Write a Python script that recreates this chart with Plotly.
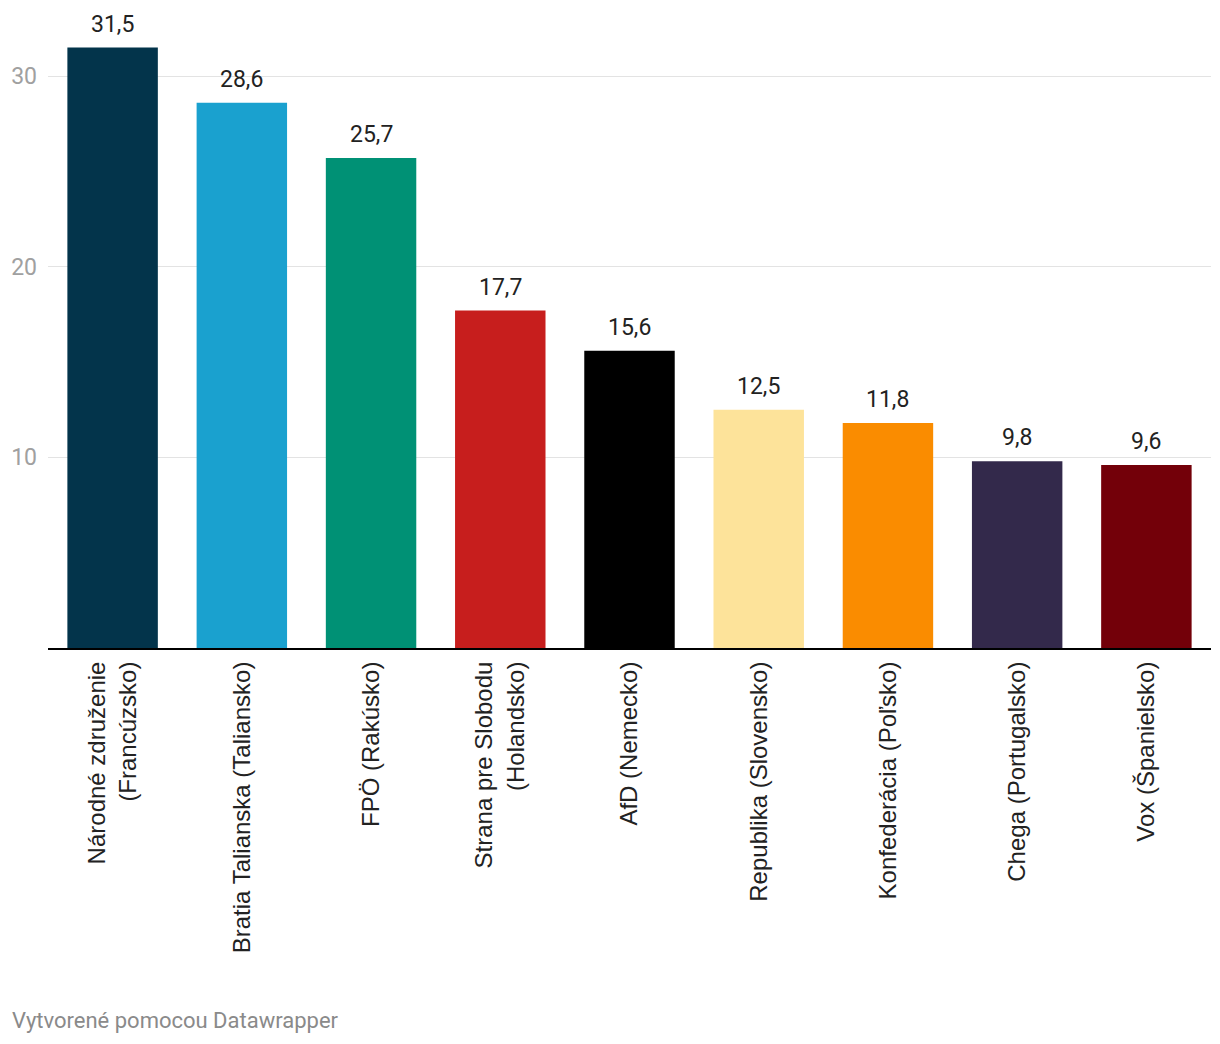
import plotly.graph_objects as go

categories = [
    "Národné združenie<br>(Francúzsko)",
    "Bratia Talianska (Taliansko)",
    "FPÖ (Rakúsko)",
    "Strana pre Slobodu<br>(Holandsko)",
    "AfD (Nemecko)",
    "Republika (Slovensko)",
    "Konfederácia (Poľsko)",
    "Chega (Portugalsko)",
    "Vox (Španielsko)",
]
values = [31.5, 28.6, 25.7, 17.7, 15.6, 12.5, 11.8, 9.8, 9.6]
colors = ["#03344b", "#1aa1cf", "#009175", "#c71e1d", "#000000",
          "#fde39a", "#fa8c00", "#33294b", "#730009"]
y_ticks = [10, 20, 30]
y_tick_labels = ["10", "20", "30"]

fig = go.Figure()
fig.add_trace(go.Bar(
    x=categories, y=values, marker=dict(color=colors, line=dict(width=0)),
    hoverinfo="skip",
))

for c, v in zip(categories, values):
    fig.add_annotation(
        x=c, y=v, text=f"{v:.1f}".replace(".", ","), showarrow=False,
        yanchor="bottom", yshift=8,
        font=dict(family="Roboto", size=23, color="#222222"),
    )

fig.add_annotation(
    xref="paper", yref="paper", x=-38/1163, y=-(1020-648)/610,
    xanchor="left", yanchor="middle",
    text="Vytvorené pomocou Datawrapper", showarrow=False,
    font=dict(family="Roboto", size=22, color="#8a8a8a"),
)

fig.update_layout(
    width=1220, height=1044,
    margin=dict(l=40, r=17, t=30, b=404, autoexpand=False),
    paper_bgcolor="white", plot_bgcolor="white",
    bargap=0.3, showlegend=False,
    xaxis=dict(
        showgrid=False, showline=True, linecolor="#000000", linewidth=2,
        tickangle=-90, ticks="", ticklabelstandoff=2, automargin=False,
        tickfont=dict(family="Liberation Sans", size=24, color="#222222"),
    ),
    yaxis=dict(
        range=[0, 32], tickvals=y_ticks, ticktext=y_tick_labels,
        showgrid=True, gridcolor="#e3e3e3", gridwidth=1, zeroline=False,
        showline=False, ticks="", ticklabelstandoff=10, automargin=False,
        tickfont=dict(family="Roboto", size=23, color="#a0a0a0"),
    ),
)

fig.write_html("out.html")
